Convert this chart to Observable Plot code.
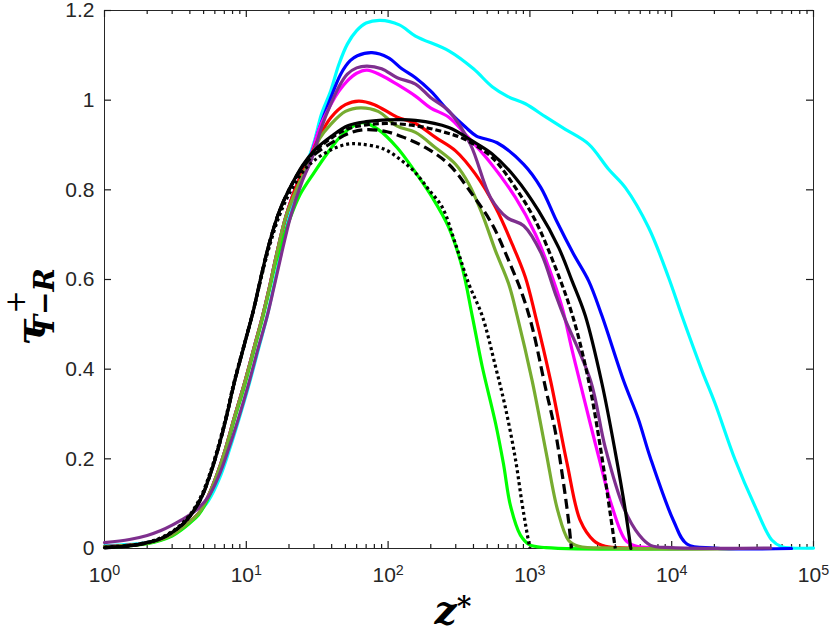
<!DOCTYPE html>
<html><head><meta charset="utf-8">
<script src="https://cdn.jsdelivr.net/npm/d3@7"></script>
<script src="https://cdn.jsdelivr.net/npm/@observablehq/plot@0.6"></script>
<style>body{margin:0;background:#fff} #chart svg{display:block}</style>
</head><body><div id="chart"></div>
<script>
// ---- data ----
const cyanZ = [1, 1.5, 2, 3, 4, 4.7, 5.4, 6.5, 7.6, 8.9, 10.5, 12.3, 14, 15.5, 17.3, 20, 23.5, 27.5, 30, 34, 39.4, 45, 51.6, 60, 70, 88, 120, 156, 268, 400, 542, 700, 929, 1300, 1778, 2596, 3590, 4710, 6870, 9490, 11800, 16300, 20200, 28000, 38700, 50800, 59700, 70000, 100000];
const cyanTau = [0.006, 0.009, 0.013, 0.03, 0.058, 0.082, 0.106, 0.158, 0.22, 0.29, 0.368, 0.45, 0.517, 0.58, 0.65, 0.74, 0.81, 0.87, 0.905, 0.97, 1.021, 1.08, 1.125, 1.155, 1.172, 1.178, 1.168, 1.143, 1.11, 1.07, 1.03, 1.008, 0.992, 0.962, 0.935, 0.902, 0.846, 0.805, 0.716, 0.605, 0.519, 0.398, 0.324, 0.198, 0.094, 0.019, 0.004, 0.001, 0.001];

const blueZ = [1, 2, 3, 3.5, 4, 4.6, 5.2, 6.1, 7.1, 8.2, 9.7, 11.4, 13, 14.5, 16.2, 19, 23, 28, 33, 39.4, 46.3, 54, 60.7, 77, 100, 125, 156, 200, 268, 351, 420, 587, 904, 1195, 1540, 2030, 2596, 3222, 4580, 5800, 7060, 10300, 12800, 20000, 70000];
const blueTau = [0.004, 0.012, 0.03, 0.045, 0.06, 0.078, 0.106, 0.158, 0.22, 0.29, 0.368, 0.45, 0.517, 0.58, 0.65, 0.74, 0.815, 0.87, 0.94, 1.005, 1.058, 1.088, 1.099, 1.106, 1.095, 1.07, 1.05, 1.02, 0.975, 0.94, 0.92, 0.905, 0.857, 0.805, 0.731, 0.657, 0.597, 0.519, 0.374, 0.29, 0.203, 0.062, 0.01, 0.001, 0.0];

const purpleZ = [1, 1.5, 2, 2.5, 3, 3.5, 4, 4.6, 5.4, 6.4, 7.5, 8.8, 10.4, 12.2, 14, 15.6, 17.5, 20.5, 24.5, 29, 34, 39.4, 45, 51.6, 60, 71, 90, 116, 156, 199, 268, 380, 527, 690, 904, 1195, 1513, 1730, 2680, 3400, 4600, 5900, 7100, 10000, 50000];
const purpleTau = [0.013, 0.02, 0.029, 0.04, 0.052, 0.064, 0.075, 0.09, 0.115, 0.162, 0.222, 0.29, 0.368, 0.45, 0.517, 0.58, 0.65, 0.74, 0.815, 0.87, 0.94, 0.991, 1.03, 1.058, 1.072, 1.076, 1.07, 1.05, 1.036, 1.006, 0.976, 0.902, 0.783, 0.738, 0.72, 0.66, 0.568, 0.519, 0.374, 0.225, 0.09, 0.03, 0.007, 0.002, 0.001];

const magentaZ = [1, 2, 3, 3.5, 4, 4.6, 5.2, 6.1, 7.1, 8.2, 9.7, 11.4, 13, 14.5, 16.2, 19, 23, 28, 33, 39.4, 45, 51.6, 60, 71, 90, 116, 156, 199, 268, 351, 513, 790, 1094, 1357, 1686, 1982, 2300, 3052, 3790, 4710, 5500, 8000, 30000];
const magentaTau = [0.004, 0.012, 0.03, 0.045, 0.06, 0.078, 0.106, 0.158, 0.22, 0.29, 0.368, 0.45, 0.517, 0.58, 0.65, 0.74, 0.815, 0.87, 0.94, 0.99, 1.02, 1.043, 1.06, 1.067, 1.055, 1.035, 1.009, 0.983, 0.962, 0.924, 0.865, 0.783, 0.701, 0.627, 0.538, 0.443, 0.36, 0.205, 0.094, 0.019, 0.006, 0.001, 0.0];

const redZ = [1, 2, 3, 3.5, 4, 4.6, 5.2, 6.1, 7.1, 8.2, 9.7, 11.4, 13, 14.5, 16.2, 19, 23, 28, 33, 39.4, 50, 62, 80, 116, 156, 216, 299, 413, 572, 750, 929, 1094, 1400, 1828, 2268, 2812, 3400, 5000, 30000];
const redTau = [0.004, 0.012, 0.03, 0.045, 0.06, 0.078, 0.106, 0.158, 0.22, 0.29, 0.368, 0.45, 0.517, 0.58, 0.65, 0.74, 0.815, 0.87, 0.92, 0.961, 0.99, 0.998, 0.99, 0.962, 0.948, 0.917, 0.887, 0.835, 0.761, 0.679, 0.605, 0.519, 0.374, 0.19, 0.062, 0.018, 0.005, 0.001, 0.0];

const oliveZ = [1, 2, 3, 3.5, 4, 4.6, 5.2, 6.1, 7.1, 8.2, 9.7, 11.4, 13, 14.5, 16.2, 19, 24, 28, 33, 39.4, 50, 64, 85, 116, 156, 216, 299, 371, 461, 572, 709, 813, 1036, 1300, 1570, 1876, 2206, 4000, 30000];
const oliveTau = [0.004, 0.012, 0.03, 0.045, 0.06, 0.078, 0.106, 0.158, 0.22, 0.29, 0.368, 0.45, 0.517, 0.58, 0.65, 0.74, 0.82, 0.865, 0.915, 0.946, 0.975, 0.983, 0.975, 0.942, 0.928, 0.894, 0.857, 0.813, 0.746, 0.664, 0.59, 0.519, 0.375, 0.215, 0.085, 0.018, 0.005, 0.001, 0.0];

const greenZ = [1, 2, 3, 3.5, 4, 4.6, 5.2, 6.1, 7.1, 8.2, 9.7, 11.4, 13, 14.5, 16.2, 20, 24, 30, 37, 45, 55, 67, 85, 116, 156, 205, 268, 333, 392, 461, 572, 650, 730, 857, 1000, 1300, 30000];
const greenTau = [0.003, 0.011, 0.028, 0.042, 0.057, 0.075, 0.102, 0.153, 0.215, 0.285, 0.362, 0.445, 0.512, 0.575, 0.64, 0.73, 0.79, 0.838, 0.88, 0.915, 0.94, 0.95, 0.935, 0.894, 0.839, 0.783, 0.716, 0.627, 0.519, 0.406, 0.28, 0.19, 0.095, 0.03, 0.008, 0.002, 0.0];

const blackSolidZ = [1, 1.5, 2, 2.5, 3, 3.5, 4, 4.8, 5.5, 6.3, 7.2, 8.2, 9.6, 11.2, 13, 14.5, 17, 20, 25, 30, 40, 52, 70, 100, 156, 268, 392, 542, 790, 1153, 1596, 1982, 2460, 3222, 4000, 4710, 5150];
const blackSolidTau = [0.002, 0.006, 0.013, 0.022, 0.036, 0.052, 0.072, 0.112, 0.16, 0.22, 0.29, 0.368, 0.45, 0.53, 0.62, 0.68, 0.75, 0.80, 0.855, 0.887, 0.92, 0.943, 0.952, 0.956, 0.955, 0.939, 0.909, 0.88, 0.827, 0.753, 0.671, 0.597, 0.519, 0.368, 0.215, 0.085, 0.0];

const blackShortDashZ = [1, 1.5, 2, 2.5, 3, 3.5, 4, 4.8, 5.5, 6.3, 7.2, 8.2, 9.6, 11.2, 13, 14.5, 17, 20, 25, 30, 40, 52, 70, 100, 156, 240, 351, 542, 790, 1094, 1513, 2000, 2596, 3140, 3690, 4000];
const blackShortDashTau = [0.002, 0.006, 0.013, 0.022, 0.036, 0.052, 0.072, 0.112, 0.16, 0.22, 0.29, 0.368, 0.45, 0.53, 0.62, 0.68, 0.75, 0.80, 0.853, 0.884, 0.916, 0.936, 0.945, 0.948, 0.943, 0.93, 0.912, 0.872, 0.805, 0.731, 0.627, 0.519, 0.374, 0.226, 0.077, 0.0];

const blackLongDashZ = [1, 1.5, 2, 2.5, 3, 3.5, 4, 4.8, 5.5, 6.3, 7.2, 8.2, 9.6, 11.2, 13, 14.5, 17, 20, 25, 30, 40, 52, 67, 93.5, 129, 184, 268, 392, 542, 709, 881, 1036, 1285, 1513, 1700, 1876, 1960];
const blackLongDashTau = [0.002, 0.006, 0.013, 0.022, 0.036, 0.052, 0.072, 0.112, 0.16, 0.22, 0.29, 0.368, 0.45, 0.53, 0.62, 0.68, 0.75, 0.80, 0.85, 0.878, 0.905, 0.925, 0.934, 0.931, 0.917, 0.894, 0.857, 0.79, 0.723, 0.642, 0.568, 0.495, 0.36, 0.26, 0.16, 0.06, 0.0];

const blackDotZ = [1, 1.5, 2, 2.5, 3, 3.5, 4, 4.8, 5.5, 6.3, 7.2, 8.2, 9.6, 11.2, 13, 14.5, 17, 20, 25, 30, 40, 51.6, 64, 93.5, 125, 156, 194, 241, 299, 371, 461, 572, 671, 790, 881, 960, 1000];
const blackDotTau = [0.003, 0.007, 0.014, 0.024, 0.038, 0.055, 0.075, 0.117, 0.165, 0.225, 0.295, 0.372, 0.452, 0.53, 0.615, 0.672, 0.74, 0.79, 0.84, 0.865, 0.89, 0.902, 0.902, 0.891, 0.865, 0.838, 0.80, 0.761, 0.679, 0.59, 0.519, 0.406, 0.315, 0.2, 0.1, 0.03, 0.0];

// ---- ticks ----
const xMajorTicks = [1, 10, 100, 1000, 10000, 100000];
const xMinorTicks = [2,3,4,5,6,7,8,9, 20,30,40,50,60,70,80,90, 200,300,400,500,600,700,800,900, 2000,3000,4000,5000,6000,7000,8000,9000, 20000,30000,40000,50000,60000,70000,80000,90000];
const yTicks = [0, 0.2, 0.4, 0.6, 0.8, 1, 1.2];
const yTickLabels = ["0", "0.2", "0.4", "0.6", "0.8", "1", "1.2"];
const xDomain = [1, 100000];
const yDomain = [0, 1.2];

// ---- layout ----
const W = 830, H = 632, mL = 104, mR = 17, mT = 10, mB = 84;
const plotW = W - mL - mR, plotH = H - mT - mB;
// inward tick lengths (px) expressed in scale units
const majorLenY = 7 * (yDomain[1] - yDomain[0]) / plotH;
const minorLenY = 4 * (yDomain[1] - yDomain[0]) / plotH;
const majorFacX = Math.pow(10, 7 * Math.log10(xDomain[1] / xDomain[0]) / plotW);

// ---- series table (drawing order) ----
const series = [
  {z: cyanZ, tau: cyanTau, color: "#00FFFF", dash: null},
  {z: blueZ, tau: blueTau, color: "#0000FF", dash: null},
  {z: magentaZ, tau: magentaTau, color: "#FF00FF", dash: null},
  {z: redZ, tau: redTau, color: "#FF0000", dash: null},
  {z: greenZ, tau: greenTau, color: "#00FF00", dash: null},
  {z: oliveZ, tau: oliveTau, color: "#77AC30", dash: null},
  {z: purpleZ, tau: purpleTau, color: "#7E2F8E", dash: null},
  {z: blackSolidZ, tau: blackSolidTau, color: "#000000", dash: null},
  {z: blackShortDashZ, tau: blackShortDashTau, color: "#000000", dash: "6,3"},
  {z: blackLongDashZ, tau: blackLongDashTau, color: "#000000", dash: "10,5"},
  {z: blackDotZ, tau: blackDotTau, color: "#000000", dash: "3,3"}
];

const lineMarks = series.map(s => {
  const n = Math.min(s.z.length, s.tau.length);
  const rows = [];
  for (let i = 0; i < n; i++) rows.push({z: s.z[i], tau: s.tau[i]});
  return Plot.line(rows, {
    x: "z", y: "tau", stroke: s.color, strokeWidth: 3.2,
    strokeDasharray: s.dash, strokeLinecap: s.dash ? "butt" : "round",
    curve: "catmull-rom"
  });
});

const axisColor = "#262626";
const tickStyle = {stroke: "#1a1a1a", strokeWidth: 1.2};
const chart = Plot.plot({
  width: W, height: H,
  marginLeft: mL, marginRight: mR, marginTop: mT, marginBottom: mB,
  style: {fontFamily: "'Liberation Sans', Arial, Helvetica, sans-serif", fontSize: "21px", color: axisColor, background: "#fff", overflow: "visible"},
  x: {type: "log", domain: xDomain, label: null},
  y: {domain: yDomain, label: null},
  marks: [
    Plot.frame({stroke: axisColor, strokeWidth: 1}),
    // inward ticks (MATLAB style): bottom, top, left, right
    Plot.ruleX(xMajorTicks, {x: d => d, y1: yDomain[0], y2: yDomain[0] + majorLenY, ...tickStyle}),
    Plot.ruleX(xMinorTicks, {x: d => d, y1: yDomain[0], y2: yDomain[0] + minorLenY, ...tickStyle}),
    Plot.ruleX(xMajorTicks, {x: d => d, y1: yDomain[1] - majorLenY, y2: yDomain[1], ...tickStyle}),
    Plot.ruleX(xMinorTicks, {x: d => d, y1: yDomain[1] - minorLenY, y2: yDomain[1], ...tickStyle}),
    Plot.ruleY(yTicks, {y: d => d, x1: xDomain[0], x2: xDomain[0] * majorFacX, ...tickStyle}),
    Plot.ruleY(yTicks, {y: d => d, x1: xDomain[1] / majorFacX, x2: xDomain[1], ...tickStyle}),
    // tick labels
    Plot.axisX({ticks: xMajorTicks, anchor: "bottom", tickSize: 0, tickPadding: 19, fill: axisColor, label: null,
      tickFormat: d => "10^" + Math.round(Math.log10(d))}),
    Plot.axisY({ticks: yTicks, anchor: "left", tickSize: 0, tickPadding: 10, fill: axisColor, label: null,
      tickFormat: d => yTickLabels[yTicks.indexOf(d)]}),
    ...lineMarks
  ]
});

// superscript exponents on x tick labels
d3.select(chart).selectAll('g[aria-label="x-axis tick label"] text').each(function () {
  const t = this.textContent;
  const parts = t.split("^");
  if (parts.length !== 2) return;
  const s = d3.select(this);
  s.text(null);
  s.append("tspan").text(parts[0]);
  s.append("tspan").attr("dy", "-0.5em").attr("font-size", "0.68em").text(parts[1]);
});

const svg = d3.select(chart);
const serif = "'DejaVu Serif', 'Liberation Serif', serif";
// x axis label z*
const xl = svg.append("text")
  .attr("x", 453).attr("y", 624)
  .attr("font-family", serif).attr("font-weight", "bold").attr("font-style", "italic")
  .attr("font-size", 39).attr("fill", "#000");
xl.append("tspan").text("z");
xl.append("tspan").attr("font-size", 28).attr("dy", -8).attr("font-style", "normal").text("*");

// y axis label tau^+_{T-R}
const yl = svg.append("g").attr("transform", "translate(44,332) rotate(-90)")
  .attr("font-family", serif).attr("font-weight", "bold").attr("font-style", "italic").attr("fill", "#000");
yl.append("text").attr("x", 0).attr("y", 0).attr("font-size", 40).text("τ");
yl.append("text").attr("x", 30).attr("y", -19).attr("font-size", 28).attr("font-style", "normal").attr("font-weight", "normal").text("+");
yl.append("text").attr("x", 30).attr("y", 10).attr("font-size", 28).text("T−R");

document.getElementById("chart").appendChild(chart);
</script>
</body></html>
